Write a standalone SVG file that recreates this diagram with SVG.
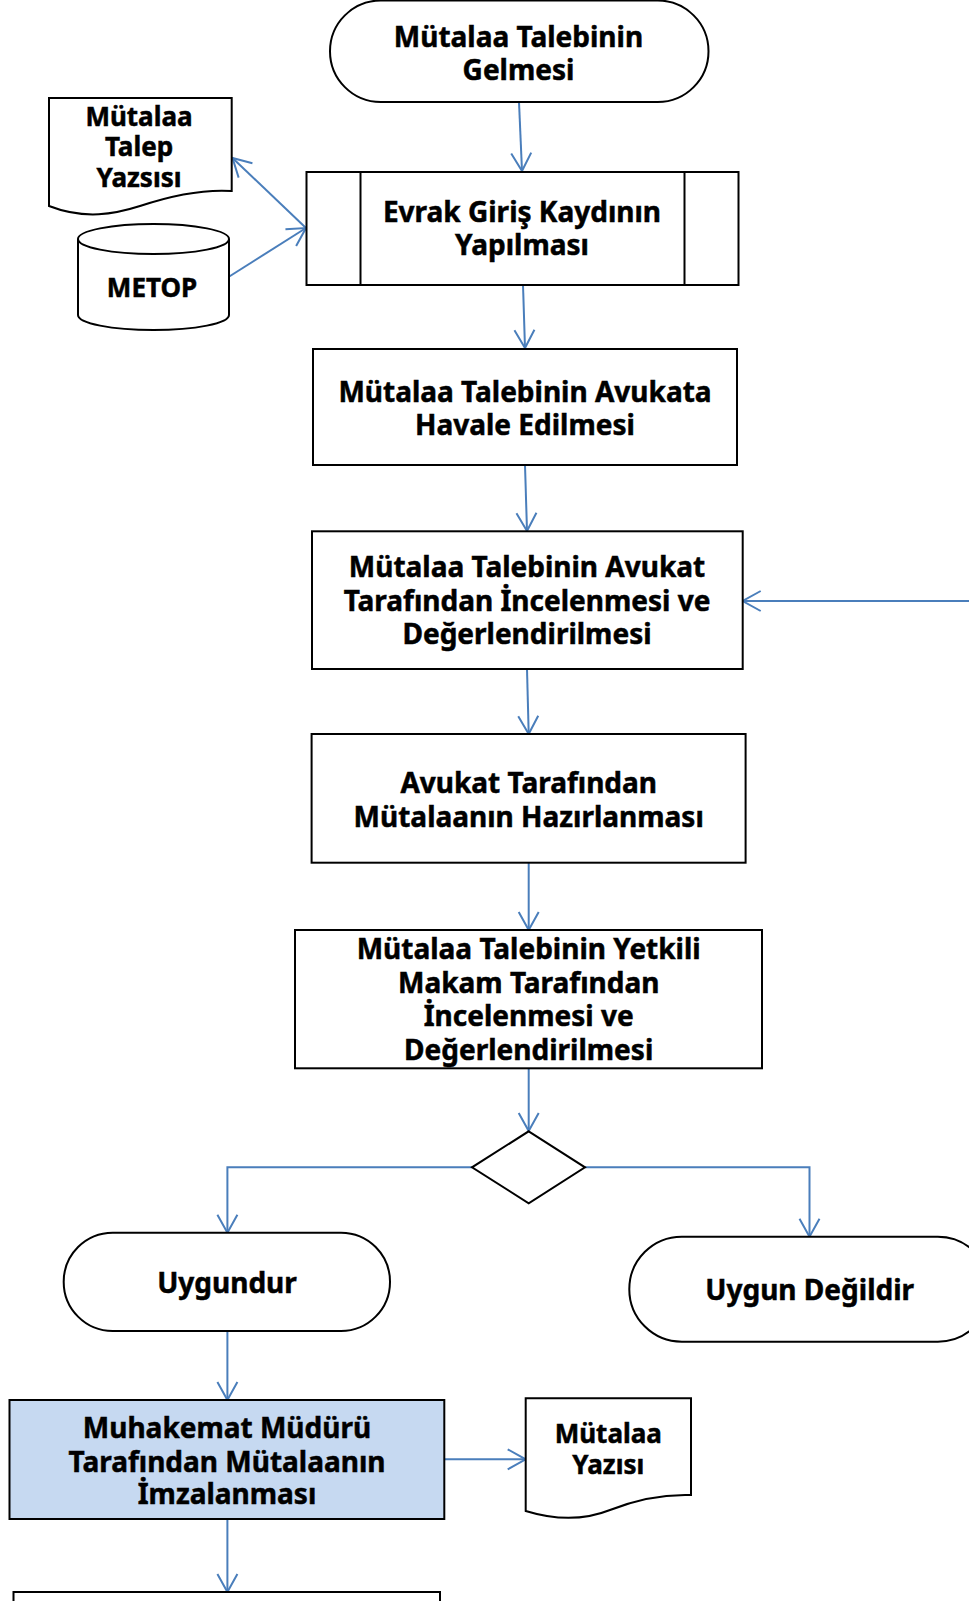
<svg xmlns="http://www.w3.org/2000/svg" width="969" height="1601" viewBox="0 0 969 1601">
<style>
.n{fill:#fff;stroke:#000;stroke-width:2}
.b{fill:#C6D9F1;stroke:#000;stroke-width:2}
.c{fill:none;stroke:#4A7EBB;stroke-width:2;marker-end:url(#ah)}
text{font-family:"Noto Sans","DejaVu Sans",sans-serif;font-weight:bold;font-size:28px;fill:#000;stroke:#000;stroke-width:0.5;text-anchor:middle}
text.s{font-size:26px}
</style>
<defs>
<marker id="ah" markerUnits="userSpaceOnUse" markerWidth="22" markerHeight="24" viewBox="0 0 22 24" refX="20" refY="12" orient="auto">
<path d="M2,2 L20,12 L2,22" fill="none" stroke="#4A7EBB" stroke-width="2"/>
</marker>
</defs>
<rect width="969" height="1601" fill="#fff"/>
<g id="connectors">
<path class="c" d="M519,102 L522,171"/>
<path class="c" d="M306,228 L232.5,158"/>
<path class="c" d="M228.5,277 L306,228"/>
<path class="c" d="M523,285 L525,348"/>
<path class="c" d="M525,465 L527,531"/>
<path class="c" d="M969,601 L742.7,601"/>
<path class="c" d="M527,669 L528.7,734"/>
<path class="c" d="M528.7,863 L528.7,930"/>
<path class="c" d="M528.7,1068 L528.7,1131"/>
<path class="c" d="M472,1167.3 H227.4 V1232.7"/>
<path class="c" d="M585,1167.3 H809.5 V1236.7"/>
<path class="c" d="M227.4,1331 V1400"/>
<path class="c" d="M444.3,1459.3 H525.7"/>
<path class="c" d="M227.4,1519 V1592"/>
</g>
<g id="start">
<rect class="n" x="330" y="0.5" width="378.5" height="101.5" rx="50.75"/>
<text x="518.5" y="46.5">Mütalaa Talebinin</text>
<text x="518.5" y="79.5">Gelmesi</text>
</g>
<g id="talep-doc">
<path class="n" d="M49,98 H231.7 V191 C200,189 170,196 140,206 C115,214 85,220 49,206 Z"/>
<text class="s" x="139" y="125.5">Mütalaa</text>
<text class="s" x="139" y="156">Talep</text>
<text class="s" x="139" y="186.5">Yazsısı</text>
</g>
<g id="metop">
<path class="n" d="M78,239 A75.5,15 0 0 1 229,239 V315 A75.5,15 0 0 1 78,315 Z"/>
<path class="n" d="M78,239 A75.5,15 0 0 0 229,239" fill="none"/>
<text class="s" x="152" y="296.5">METOP</text>
</g>
<g id="evrak">
<rect class="n" x="306.5" y="172" width="432" height="113"/>
<line class="n" x1="360.5" y1="172" x2="360.5" y2="285"/>
<line class="n" x1="684.5" y1="172" x2="684.5" y2="285"/>
<text x="522" y="221.5">Evrak Giriş Kaydının</text>
<text x="522" y="255">Yapılması</text>
</g>
<g id="havale">
<rect class="n" x="313" y="349" width="424" height="116"/>
<text x="525" y="401.5">Mütalaa Talebinin Avukata</text>
<text x="525" y="435">Havale Edilmesi</text>
</g>
<g id="inceleme">
<rect class="n" x="312" y="531.3" width="430.7" height="137.7"/>
<text x="527" y="577.3">Mütalaa Talebinin Avukat</text>
<text x="527" y="610.7">Tarafından İncelenmesi ve</text>
<text x="527" y="644.3">Değerlendirilmesi</text>
</g>
<g id="hazirlama">
<rect class="n" x="311.6" y="734" width="434" height="128.7"/>
<text x="528.7" y="792.7">Avukat Tarafından</text>
<text x="528.7" y="826.7">Mütalaanın Hazırlanması</text>
</g>
<g id="yetkili">
<rect class="n" x="295" y="930" width="467" height="138.3"/>
<text x="528.7" y="959.3">Mütalaa Talebinin Yetkili</text>
<text x="528.7" y="992.7">Makam Tarafından</text>
<text x="528.7" y="1026">İncelenmesi ve</text>
<text x="528.7" y="1060">Değerlendirilmesi</text>
</g>
<g id="decision">
<path class="n" d="M528.7,1131.3 L585,1167.3 L528.7,1203.3 L472,1167.3 Z"/>
</g>
<g id="uygundur">
<rect class="n" x="63.7" y="1232.7" width="326.3" height="98.3" rx="49"/>
<text x="227" y="1293.3">Uygundur</text>
</g>
<g id="uygun-degil">
<rect class="n" x="629.3" y="1236.7" width="361" height="105" rx="52.5"/>
<text x="809.7" y="1300">Uygun Değildir</text>
</g>
<g id="muhakemat">
<rect class="b" x="9.5" y="1400" width="434.8" height="119"/>
<text x="227" y="1437.7">Muhakemat Müdürü</text>
<text x="227" y="1471.7">Tarafından Mütalaanın</text>
<text x="227" y="1504.3">İmzalanması</text>
</g>
<g id="yazi-doc">
<path class="n" d="M525.7,1398.3 H691 V1495 C660,1494 635,1500 610,1510 C585,1520 555,1520 525.7,1511 Z"/>
<text class="s" x="608.3" y="1442.7">Mütalaa</text>
<text class="s" x="608.3" y="1474.3">Yazısı</text>
</g>
<g id="next">
<rect class="n" x="13.5" y="1592" width="426.5" height="30"/>
</g>
</svg>
